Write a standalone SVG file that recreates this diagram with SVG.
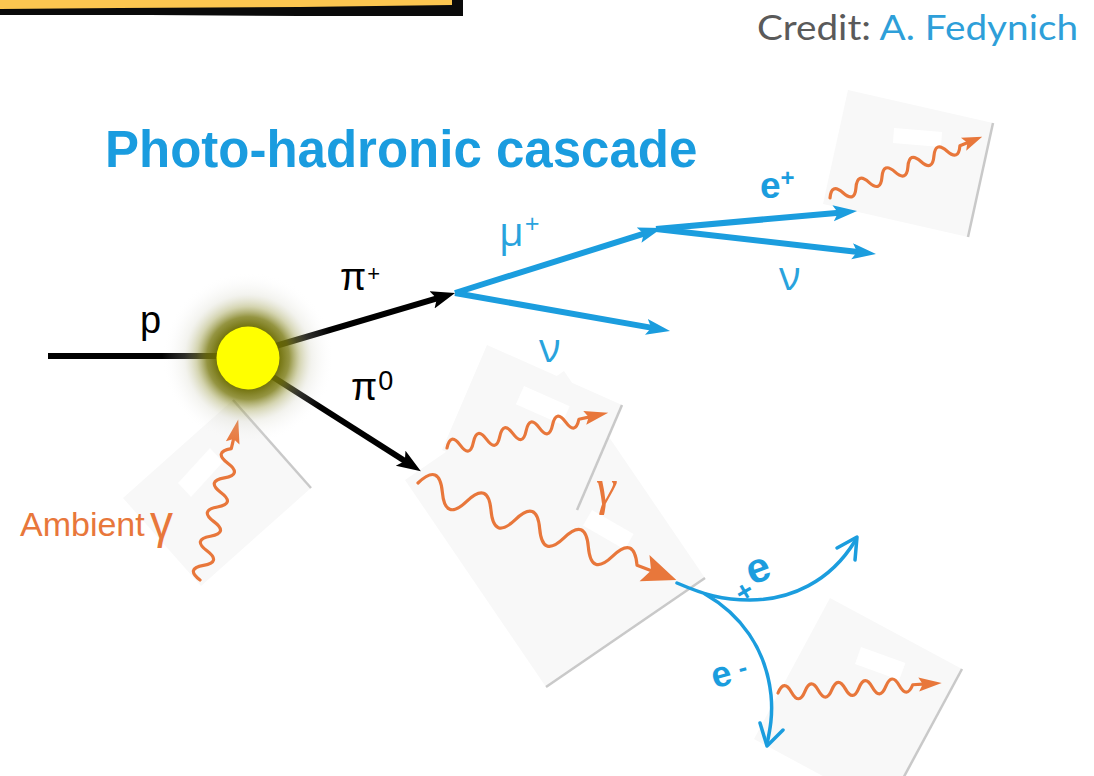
<svg xmlns="http://www.w3.org/2000/svg" width="1094" height="776" viewBox="0 0 1094 776">
<style>
.card{fill:#f8f8f8}
.shadow{stroke:#c9c9c9;stroke-width:2.5;fill:none}
.hole{fill:#ffffff}
.wave{fill:none;stroke:#e8773b;stroke-width:3.2;stroke-linecap:round;stroke-linejoin:round}
.whead{fill:#e8773b}
.blk{stroke:#000;stroke-width:6;fill:none}
.blu{stroke:#1b9dde;stroke-width:6;fill:none}
.curve{stroke:#1b9dde;stroke-width:3.5;fill:none;stroke-linecap:round;stroke-linejoin:round}
.sans{font-family:"Liberation Sans",Arial,sans-serif}
.light{font-family:"Open Sans","Liberation Sans",sans-serif}
</style>
<defs>
<marker id="ahBlack" markerUnits="userSpaceOnUse" markerWidth="26" markerHeight="20" refX="6" refY="9" orient="auto"><path d="M0,0 L24,9 L0,18 L5,9 z" fill="#000"/></marker>
<marker id="ahBlue" markerUnits="userSpaceOnUse" markerWidth="26" markerHeight="18" refX="6" refY="8" orient="auto"><path d="M0,0 L24,8 L0,16 L5,8 z" fill="#1b9dde"/></marker>
<radialGradient id="glow" cx="248" cy="358" r="86" gradientUnits="userSpaceOnUse">
<stop offset="0" stop-color="#6b6b00" stop-opacity="1"/>
<stop offset="0.36" stop-color="#6b6b00" stop-opacity="0.95"/>
<stop offset="0.48" stop-color="#7a7a12" stop-opacity="0.8"/>
<stop offset="0.6" stop-color="#a0a050" stop-opacity="0.45"/>
<stop offset="0.74" stop-color="#c8c8b4" stop-opacity="0.22"/>
<stop offset="0.88" stop-color="#e2e2de" stop-opacity="0.1"/>
<stop offset="1" stop-color="#ffffff" stop-opacity="0"/>
</radialGradient>
</defs>
<rect width="1094" height="776" fill="#ffffff"/>

<g id="banner">
<rect x="0" y="0" width="454" height="9" fill="#fcc650"/>
<path d="M0,9 L120,8 L300,7 L452,5 L452,0 L463,0 L463,16 L300,16 L150,15 L0,15 z" fill="#0a0a0a"/>
</g>

<g id="credit">
<text x="757" y="40" font-size="34" textLength="321" lengthAdjust="spacingAndGlyphs" style="font-family:Lato,'Open Sans',sans-serif"><tspan fill="#5a5a5a">Credit: </tspan><tspan fill="#2e9fd9">A. Fedynich</tspan></text>
</g>

<g id="title">
<text x="105" y="167" class="sans" font-size="51" font-weight="bold" fill="#1a9cdf">Photo-hadronic cascade</text>
</g>

<g id="card-ambient">
<polygon class="card" points="233,400 311,488 201,586 123,498"/>
<line class="shadow" x1="233" y1="400" x2="311" y2="488" stroke-width="2"/>
<polygon class="hole" points="210,448 223,462 191,497 178,483"/>
<g transform="translate(200,580) rotate(-76.6)">
<path class="wave" d="M0,0 q7.5,-17 15,0 t15,0 t15,0 t15,0 t15,0 t15,0 t15,0 t15,0 t15,0 l10,0"/>
<path class="whead" d="M141,-7 L165,0 L141,7 L145,0 z"/>
</g>
</g>

<g id="card-gamma">
<polygon class="card" points="405,480 564,371 705,578 546,687"/>
<line class="shadow" x1="546" y1="687" x2="705" y2="578"/>
<polygon class="hole" points="592,510 633.6,534 624.6,549.6 583,525.6"/>
</g>

<g id="card-pi0">
<polygon class="card" points="487,345 622,405 577,510 442,450"/>
<line class="shadow" x1="622" y1="405" x2="577" y2="510"/>
<polygon class="hole" points="524,386 569.7,406.3 561.6,424.6 515.9,404.3"/>
<g transform="translate(447,448) rotate(-12.3)">
<path class="wave" d="M0,0 q6.75,-15 13.5,0 t13.5,0 t13.5,0 t13.5,0 t13.5,0 t13.5,0 t13.5,0 t13.5,0 t13.5,0 t13.5,0 l10,0"/>
<path class="whead" d="M141,-7 L165,0 L141,7 L145,0 z"/>
</g>
</g>

<g id="gamma-big">
<g transform="translate(418,483) rotate(20.6)">
<path class="wave" stroke-width="6" d="M0,0 q13,-27 26,0 t26,0 t26,0 t26,0 t26,0 t26,0 t26,0 t26,0 t26,0 l14,0"/>
<path class="whead" d="M242,-14 L276,0 L242,14 L249,0 z"/>
</g>
<text x="596" y="504" font-size="50" font-style="italic" fill="#e8773b" style="font-family:'Liberation Serif','Times New Roman',serif">γ</text>
</g>

<g id="card-eplus">
<polygon class="card" points="848,90 993,123 968,237 823,204"/>
<line class="shadow" x1="993" y1="123" x2="968" y2="237"/>
<polygon class="hole" points="894,128 942,132 941,147 893,143"/>
<g transform="translate(830,198) rotate(-21.9)">
<path class="wave" d="M0,0 q7,-14 14,0 t14,0 t14,0 t14,0 t14,0 t14,0 t14,0 t14,0 t14,0 t14,0 l8,0"/>
<path class="whead" d="M144,-7 L164,0 L144,7 L148,0 z"/>
</g>
</g>

<g id="card-eminus">
<polygon class="card" points="830,598 962,669 886,810 754,739"/>
<line class="shadow" x1="962" y1="669" x2="886" y2="810"/>
<polygon class="hole" points="861,647 905.4,663.1 899.2,680 855,663.9"/>
<g transform="translate(778,693) rotate(-3.5)">
<path class="wave" d="M0,0 q6.75,-14 13.5,0 t13.5,0 t13.5,0 t13.5,0 t13.5,0 t13.5,0 t13.5,0 t13.5,0 t13.5,0 t13.5,0 l10,0"/>
<path class="whead" d="M141,-7 L164,0 L141,7 L145,0 z"/>
</g>
</g>

<g id="connectors">
<line class="blk" x1="48" y1="356" x2="230" y2="356"/>
<line class="blk" x1="262" y1="350" x2="437.8" y2="298.2" marker-end="url(#ahBlack)"/>
<line class="blk" x1="262" y1="370" x2="405.7" y2="461.5" marker-end="url(#ahBlack)"/>
<line class="blu" x1="455" y1="293" x2="644.8" y2="233.4" marker-end="url(#ahBlue)"/>
<line class="blu" x1="455" y1="293" x2="652.3" y2="327.9" marker-end="url(#ahBlue)"/>
<line class="blu" x1="656" y1="229" x2="839.1" y2="212.7" marker-end="url(#ahBlue)"/>
<line class="blu" x1="656" y1="229" x2="858.1" y2="252" marker-end="url(#ahBlue)"/>
<path class="curve" d="M677,583 C705,595 722,600 750,600 C790,600 830,582 855,541"/>
<path class="curve" d="M837,548 L857,537 L855,560"/>
<path class="curve" d="M705,594 C740,614 766,648 771,695 C773,715 770,730 767,744"/>
<path class="curve" d="M760,723 L767,746 L783,730"/>
</g>

<g id="vertex">
<circle cx="248" cy="358" r="86" fill="url(#glow)"/>
<circle cx="248" cy="358" r="31.5" fill="#ffff00"/>
</g>

<g id="labels">
<text x="140" y="333" class="sans" font-size="38" fill="#000">p</text>
<text x="340" y="290" class="sans" font-size="38" fill="#000">π<tspan font-size="22" dx="1" dy="-9">+</tspan></text>
<text x="351" y="400" class="sans" font-size="38" fill="#000">π<tspan font-size="27" dx="1" dy="-10">0</tspan></text>
<text x="499" y="246" class="light" font-size="40" fill="#29a3dd">μ<tspan font-size="26" dx="1" dy="-13">+</tspan></text>
<text x="539" y="362" class="light" font-size="40" fill="#29a3dd">ν</text>
<text x="779" y="290" class="light" font-size="40" fill="#29a3dd">ν</text>
<text x="760" y="198" class="sans" font-size="37" font-weight="bold" fill="#1b9dde">e<tspan font-size="24" dy="-12">+</tspan></text>
<text x="746" y="582" class="sans" font-size="42" font-weight="bold" fill="#1b9dde" transform="rotate(-20 758 568)">e</text>
<text x="744" y="601" class="sans" font-size="28" font-weight="bold" fill="#1b9dde" text-anchor="middle" transform="rotate(-30 744 591)">+</text>
<text x="711" y="686" class="sans" font-size="36" font-weight="bold" fill="#1b9dde" transform="rotate(-15 722 674)">e<tspan font-size="26" dx="8" dy="-4">-</tspan></text>
<text x="20" y="536" class="sans" font-size="34" fill="#e8773b">Ambient</text>
<text x="150" y="538" class="sans" font-size="46" fill="#e8773b">γ</text>
</g>
</svg>
